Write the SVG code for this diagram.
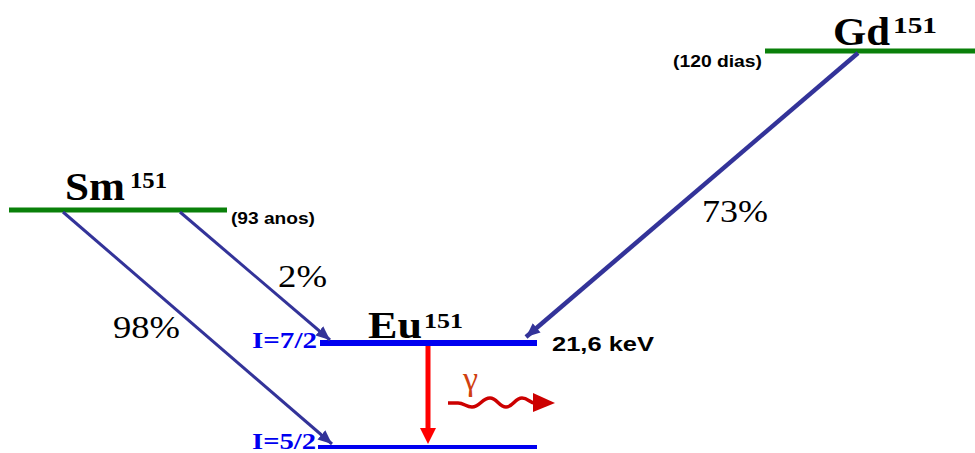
<svg xmlns="http://www.w3.org/2000/svg" width="975" height="453" viewBox="0 0 975 453">
<style>
.lvl-g{stroke:#0a800a;stroke-width:5;}
.lvl-b{stroke:#0000f0;}
.iso{font-family:"Liberation Serif",serif;font-weight:bold;fill:#000;}
.half{font-family:"Liberation Sans",Arial,sans-serif;font-weight:bold;fill:#000;}
.pct{font-family:"Liberation Serif",serif;fill:#000;font-size:32px;}
.spin{font-family:"Liberation Serif",serif;font-weight:bold;fill:#0000f0;font-size:24px;}
.conn{stroke:#333399;fill:none;}
</style>
<defs>
<marker id="ah" markerUnits="userSpaceOnUse" markerWidth="16" markerHeight="14" refX="14" refY="7" orient="auto">
<path d="M0,1 L14,7 L0,13 Z" fill="#333399"/>
</marker>
</defs>
<rect width="975" height="453" fill="#fff"/>
<g id="gd">
<line class="lvl-g" x1="765" y1="51" x2="975" y2="51"/>
<text class="iso" x="833" y="45" font-size="40" textLength="57" lengthAdjust="spacingAndGlyphs">Gd</text>
<text class="iso" x="893" y="33" font-size="24" textLength="44" lengthAdjust="spacingAndGlyphs">151</text>
<text class="half" x="673" y="67" font-size="16" textLength="89" lengthAdjust="spacingAndGlyphs">(120 dias)</text>
</g>
<g id="sm">
<line class="lvl-g" x1="9" y1="210" x2="227" y2="210"/>
<text class="iso" x="65" y="200" font-size="40" textLength="60" lengthAdjust="spacingAndGlyphs">Sm</text>
<text class="iso" x="130" y="188" font-size="24" textLength="37" lengthAdjust="spacingAndGlyphs">151</text>
<text class="half" x="231" y="224" font-size="16" textLength="84" lengthAdjust="spacingAndGlyphs">(93 anos)</text>
</g>
<g id="eu-excited">
<line class="lvl-b" stroke-width="6" x1="320" y1="343" x2="537" y2="343"/>
<text class="iso" x="368" y="338" font-size="37" textLength="54" lengthAdjust="spacingAndGlyphs">Eu</text>
<text class="iso" x="424" y="328" font-size="22" textLength="39" lengthAdjust="spacingAndGlyphs">151</text>
<text class="spin" x="252" y="348" textLength="65" lengthAdjust="spacingAndGlyphs">I=7/2</text>
<text class="half" x="552" y="351" font-size="19.5" textLength="102" lengthAdjust="spacingAndGlyphs">21,6 keV</text>
</g>
<g id="eu-ground">
<line class="lvl-b" stroke-width="4" x1="318" y1="447" x2="537" y2="447"/>
<text class="spin" x="252" y="449" textLength="64" lengthAdjust="spacingAndGlyphs">I=5/2</text>
</g>
<g id="connectors">
<line class="conn" stroke-width="4.5" x1="858" y1="53" x2="526" y2="337" marker-end="url(#ah)"/>
<line class="conn" stroke-width="3" x1="180" y1="212" x2="330" y2="340" marker-end="url(#ah)"/>
<line class="conn" stroke-width="3" x1="63" y1="212" x2="332" y2="444" marker-end="url(#ah)"/>
<line stroke="#ff0000" stroke-width="5" x1="428" y1="346" x2="428" y2="430"/>
<path d="M420,428 L436,428 L428,444 Z" fill="#ff0000"/>
<path d="M448,403 L458,403 C464,403 466,407 472,407 C480,407 482,398 490,398 C497,398 499,407 506,407 C513,407 515,398 522,398 C528,398 530,403 535,403" fill="none" stroke="#cc0000" stroke-width="3.5"/>
<path d="M533,393 L555,403 L533,412 Z" fill="#cc0000"/>
</g>
<g id="labels">
<text class="pct" x="702" y="222" textLength="66" lengthAdjust="spacingAndGlyphs">73%</text>
<text class="pct" x="278" y="287" textLength="49" lengthAdjust="spacingAndGlyphs">2%</text>
<text class="pct" x="113" y="338" textLength="67" lengthAdjust="spacingAndGlyphs">98%</text>
<text x="463" y="390" font-family="Liberation Serif,serif" font-size="34" fill="#d04010">γ</text>
</g>
</svg>
